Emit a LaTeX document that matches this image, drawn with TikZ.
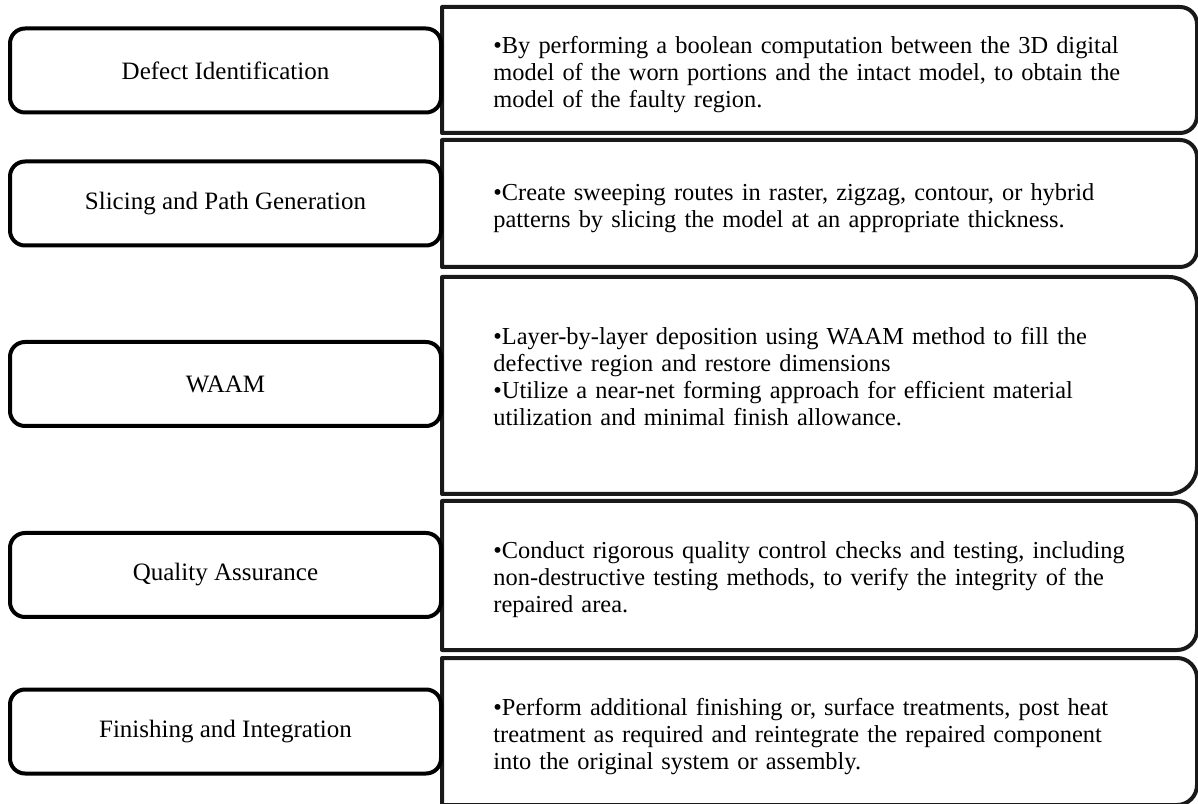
\documentclass[tikz,border=0pt]{standalone}
\usepackage{fontspec}
\setmainfont{Liberation Serif}

\newcommand\bul{\par\noindent\setbox0\hbox{\textbullet}\hangindent=\wd0\hangafter=1\box0}
% right-hand box: top, bottom, corner radius (pt)
\newcommand\sidebox[3]{%
  \draw[frame] (442,#2) -- (442,#1) -- ({1197-2*#3},#1)
    arc[start angle=90,end angle=0,radius=#3pt] -- (1197,{#2+2*#3})
    arc[start angle=0,end angle=-90,radius=#3pt] -- cycle;}

\begin{document}
\begin{tikzpicture}[x=0.5pt,y=0.5pt,
    frame/.style={draw=black!90,line width=2pt,line join=round},
    lbox/.style={draw=black,line width=2pt,rounded corners=7.5pt,fill=white,
      minimum width=215.5pt,minimum height=42pt,
      font=\fontsize{12.5}{15}\selectfont},
    desc/.style={anchor=west,inner sep=0pt,text width=340pt,align=left,
      font=\fontsize{12.2}{13.5}\selectfont}]
  \clip (0,0) rectangle (1198,803);
  % right-hand boxes
  \sidebox{796}{670}{8.5}
  \sidebox{663}{536}{8.5}
  \sidebox{526}{309}{14}
  \sidebox{302}{153}{10}
  \sidebox{145}{-2}{10}
  % left-hand boxes
  \node[lbox] (s1) at (225.5,732.5) {Defect Identification};
  \node[lbox] (s2) at (225.5,599.5) {Slicing and Path Generation};
  \node[lbox] (s3) at (225.5,419) {WAAM};
  \node[lbox] (s4) at (225.5,228) {Quality Assurance};
  \node[lbox] (s5) at (225.5,71.5) {Finishing and Integration};
  % descriptions
  \node[desc] (d1) at (493,733)
    {\bul By performing a boolean computation between the 3D digital\\
     model of the worn portions and the intact model, to obtain the\\
     model of the faulty region.};
  \node[desc] (d2) at (493,599.5)
    {\bul Create sweeping routes in raster, zigzag, contour, or hybrid\\
     patterns by slicing the model at an appropriate thickness.};
  \node[desc] (d3) at (493,431)
    {\bul Layer-by-layer deposition using WAAM method to fill the\\
     defective region and restore dimensions
     \bul Utilize a near-net forming approach for efficient material\\
     utilization and minimal finish allowance.};
  \node[desc] (d4) at (493,228)
    {\bul Conduct rigorous quality control checks and testing, including\\
     non-destructive testing methods, to verify the integrity of the\\
     repaired area.};
  \node[desc] (d5) at (493,71.5)
    {\bul Perform additional finishing or, surface treatments, post heat\\
     treatment as required and reintegrate the repaired component\\
     into the original system or assembly.};
\end{tikzpicture}
\end{document}
